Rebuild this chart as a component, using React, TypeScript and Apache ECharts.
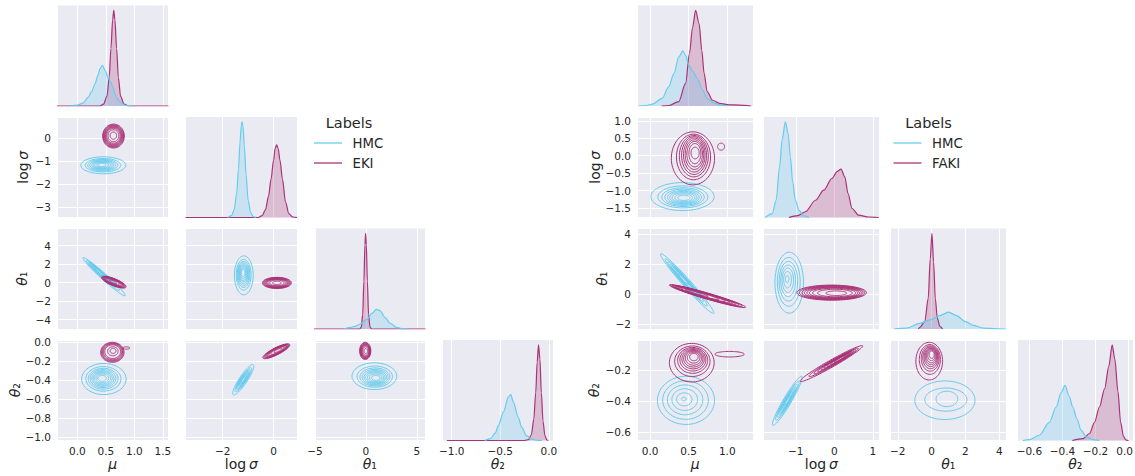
import React, { useEffect, useRef } from "react";
import * as echarts from "echarts";

const HMC_COLOR = "#66CCEE";
const EKI_COLOR = "#AA3377";
const TEXT = "#262626";
const FONT = "DejaVu Sans";
const PANEL_BG = "#EAEAF2";

type Pt = [number, number];
type Spec = { min: number; max: number; split: number; dec: number; padRightEdge?: boolean };
type Blob = { c: Pt; c1?: Pt; u: Pt; v: Pt; levels: number[]; levelsV?: number[] };

// ---------- axis specs ----------
const L_X_SPECS: Spec[] = [
  { min: -0.356, max: 1.6, split: 4, dec: 1 },
  { min: -3.46, max: 0.92, split: 2, dec: 0 },
  { min: -5.1, max: 5.85, split: 2, dec: 0 },
  { min: -1.1, max: 0.048, split: 2, dec: 1 },
];
const L_Y_SPECS: (Spec | null)[] = [
  null,
  { min: -3.44, max: 0.93, split: 4, dec: 0 },
  { min: -5.0, max: 5.86, split: 5, dec: 0 },
  { min: -1.034, max: 0.019, split: 5, dec: 1 },
];
const R_X_SPECS: Spec[] = [
  { min: -0.17, max: 1.34, split: 3, dec: 1 },
  { min: -1.85, max: 1.17, split: 3, dec: 0 },
  { min: -2.46, max: 4.43, split: 3, dec: 0 },
  { min: -0.675, max: 0.03, split: 4, dec: 1, padRightEdge: true },
];
const R_Y_SPECS: (Spec | null)[] = [
  null,
  { min: -1.77, max: 1.11, split: 6, dec: 1 },
  { min: -2.31, max: 4.35, split: 3, dec: 0 },
  { min: -0.654, max: -0.003, split: 3, dec: 1 },
];

// ---------- diagonal KDE curves: [value, relative density] ----------
const kdeL_mu_HMC: Pt[] = [[-0.13, 0], [0, 0.01], [0.1, 0.03], [0.19, 0.09], [0.25, 0.15], [0.31, 0.23], [0.36, 0.32], [0.4, 0.39], [0.44, 0.425], [0.49, 0.37], [0.545, 0.285], [0.59, 0.25], [0.62, 0.2], [0.66, 0.127], [0.7, 0.08], [0.75, 0.04], [0.84, 0.007], [0.98, 0]];
const kdeL_mu_EKI: Pt[] = [[-0.356, 0], [0.4, 0], [0.46, 0.02], [0.52, 0.1], [0.56, 0.3], [0.59, 0.6], [0.62, 0.9], [0.64, 1.0], [0.66, 0.9], [0.69, 0.6], [0.72, 0.3], [0.76, 0.1], [0.82, 0.02], [0.9, 0], [1.6, 0]];
const kdeL_ls_HMC: Pt[] = [[-1.8, 0], [-1.65, 0.02], [-1.55, 0.08], [-1.45, 0.25], [-1.38, 0.5], [-1.32, 0.78], [-1.27, 0.96], [-1.24, 1.0], [-1.2, 0.95], [-1.15, 0.75], [-1.08, 0.45], [-1.0, 0.18], [-0.9, 0.05], [-0.8, 0.01], [-0.7, 0]];
const kdeL_ls_EKI: Pt[] = [[-3.46, 0], [-0.6, 0], [-0.45, 0.02], [-0.32, 0.08], [-0.2, 0.22], [-0.1, 0.4], [0, 0.6], [0.06, 0.72], [0.12, 0.76], [0.18, 0.72], [0.25, 0.6], [0.35, 0.4], [0.47, 0.16], [0.6, 0.04], [0.75, 0.005], [0.92, 0]];
const kdeL_t1_HMC: Pt[] = [[-2.2, 0], [-1.5, 0.017], [-1.0, 0.03], [-0.56, 0.052], [0.1, 0.1], [0.59, 0.164], [1.04, 0.206], [1.4, 0.19], [1.88, 0.12], [2.37, 0.06], [3.0, 0.017], [3.6, 0.004], [4.2, 0]];
const kdeL_t1_EKI: Pt[] = [[-5.1, 0], [-0.6, 0], [-0.45, 0.02], [-0.32, 0.15], [-0.2, 0.5], [-0.1, 0.88], [-0.03, 1.0], [0.04, 0.88], [0.14, 0.5], [0.26, 0.15], [0.4, 0.02], [0.55, 0], [5.85, 0]];
const kdeL_t2_HMC: Pt[] = [[-0.66, 0], [-0.6, 0.02], [-0.55, 0.08], [-0.52, 0.155], [-0.467, 0.3], [-0.416, 0.455], [-0.392, 0.48], [-0.365, 0.4], [-0.314, 0.24], [-0.28, 0.14], [-0.229, 0.05], [-0.177, 0.014], [-0.12, 0.002], [-0.07, 0]];
const kdeL_t2_EKI: Pt[] = [[-1.05, 0], [-0.25, 0], [-0.21, 0.01], [-0.18, 0.06], [-0.155, 0.22], [-0.135, 0.5], [-0.12, 0.82], [-0.106, 1.0], [-0.092, 0.85], [-0.077, 0.5], [-0.06, 0.2], [-0.04, 0.05], [-0.02, 0.005], [-0.005, 0]];

const kdeR_mu_HMC: Pt[] = [[-0.15, 0], [-0.05, 0.005], [0.03, 0.02], [0.156, 0.08], [0.24, 0.2], [0.31, 0.34], [0.37, 0.51], [0.426, 0.575], [0.46, 0.53], [0.5, 0.43], [0.557, 0.357], [0.61, 0.29], [0.68, 0.166], [0.74, 0.08], [0.83, 0.028], [0.94, 0.007], [1.03, 0]];
const kdeR_mu_EKI: Pt[] = [[0.15, 0], [0.24, 0.005], [0.37, 0.045], [0.46, 0.236], [0.51, 0.55], [0.55, 0.82], [0.59, 1.0], [0.635, 0.86], [0.67, 0.58], [0.7, 0.34], [0.74, 0.15], [0.81, 0.06], [0.9, 0.028], [1.03, 0.012], [1.15, 0.01], [1.31, 0]];
const kdeR_ls_HMC: Pt[] = [[-1.79, 0], [-1.61, 0.04], [-1.51, 0.18], [-1.42, 0.53], [-1.355, 0.81], [-1.27, 1.0], [-1.2, 0.88], [-1.14, 0.63], [-1.08, 0.37], [-1.01, 0.18], [-0.92, 0.077], [-0.79, 0.014], [-0.66, 0]];
const kdeR_ls_EKI: Pt[] = [[-1.18, 0], [-0.95, 0.02], [-0.75, 0.06], [-0.49, 0.18], [-0.275, 0.286], [-0.06, 0.41], [0.07, 0.48], [0.174, 0.506], [0.27, 0.425], [0.355, 0.25], [0.46, 0.094], [0.63, 0.024], [0.89, 0.005], [1.15, 0]];
const kdeR_t1_HMC: Pt[] = [[-2.23, 0], [-1.48, 0.01], [-0.69, 0.058], [-0.1, 0.096], [0.49, 0.14], [1.0, 0.176], [1.48, 0.14], [1.97, 0.08], [2.47, 0.038], [3.06, 0.01], [3.85, 0.002], [4.4, 0]];
const kdeR_t1_EKI: Pt[] = [[-0.79, 0], [-0.69, 0.017], [-0.4, 0.08], [-0.2, 0.32], [-0.08, 0.73], [0.02, 1.0], [0.12, 0.7], [0.22, 0.32], [0.34, 0.11], [0.49, 0.028], [0.65, 0]];
const kdeR_t2_HMC: Pt[] = [[-0.64, 0], [-0.6, 0.01], [-0.54, 0.055], [-0.479, 0.19], [-0.438, 0.35], [-0.408, 0.5], [-0.384, 0.576], [-0.361, 0.47], [-0.337, 0.35], [-0.313, 0.23], [-0.287, 0.108], [-0.256, 0.038], [-0.216, 0.01], [-0.176, 0]];
const kdeR_t2_EKI: Pt[] = [[-0.34, 0], [-0.276, 0.02], [-0.236, 0.073], [-0.206, 0.19], [-0.176, 0.35], [-0.145, 0.54], [-0.119, 0.78], [-0.099, 1.0], [-0.083, 0.85], [-0.064, 0.51], [-0.048, 0.19], [-0.03, 0.04], [-0.014, 0.003], [0.0, 0]];

// ---------- contour level scales (outer = 1) ----------
const GAUSS_LEVELS = [1, 0.79, 0.67, 0.58, 0.5, 0.43, 0.36, 0.28, 0.19];
const DENSE_LEVELS = [1, 0.94, 0.88, 0.82, 0.76, 0.7, 0.62, 0.5, 0.3];
const FEW_LEVELS = [1, 0.93, 0.86, 0.78, 0.68, 0.45, 0.25];
const SIX_LEVELS = [1, 0.8, 0.62, 0.45, 0.27, 0.08];
const SEVEN_LEVELS = [1, 0.8, 0.65, 0.52, 0.4, 0.27, 0.12];
const THREE_LEVELS = [1, 0.7, 0.36];
const THREE_LEVELS_V = [1, 0.6, 0.4];
const TALL_LEVELS_V = [1, 0.86, 0.78, 0.71, 0.64, 0.56, 0.48, 0.38, 0.22];
const ONE_LEVEL = [1];

// ---------- contour shapes per panel (row, col) ----------
const contL_10_HMC: Blob[] = [{ c: [0.456, -1.17], c1: [0.43, -1.15], u: [0.395, 0], v: [0, 0.37], levels: GAUSS_LEVELS }];
const contL_10_EKI: Blob[] = [{ c: [0.635, 0.1], c1: [0.632, 0.13], u: [0.19, 0], v: [0, 0.52], levels: DENSE_LEVELS }];
const contL_20_HMC: Blob[] = [{ c: [0.47, 0.65], c1: [0.36, 1.3], u: [-0.37, 2.05], v: [0.035, 0.24], levels: GAUSS_LEVELS }];
const contL_20_EKI: Blob[] = [{ c: [0.64, 0.065], c1: [0.62, 0.12], u: [0.214, -0.54], v: [-0.023, -0.35], levels: DENSE_LEVELS }];
const contL_30_HMC: Blob[] = [{ c: [0.466, -0.39], c1: [0.43, -0.38], u: [0.39, 0], v: [0, 0.163], levels: GAUSS_LEVELS }];
const contL_30_EKI: Blob[] = [
  { c: [0.615, -0.11], c1: [0.632, -0.09], u: [0.205, 0], v: [0, 0.105], levels: FEW_LEVELS },
  { c: [0.86, -0.065], u: [0.06, 0], v: [0, 0.012], levels: ONE_LEVEL },
];
const contL_21_HMC: Blob[] = [{ c: [-1.17, 0.8], c1: [-1.2, 1.1], u: [0.37, 0], v: [0, 2.1], levels: GAUSS_LEVELS }];
const contL_21_EKI: Blob[] = [{ c: [0.13, -0.02], u: [0.57, 0], v: [0, 0.6], levels: DENSE_LEVELS }];
const contL_31_HMC: Blob[] = [{ c: [-1.19, -0.397], u: [0.395, 0.158], v: [0.132, -0.0234], levels: GAUSS_LEVELS }];
const contL_31_EKI: Blob[] = [{ c: [0.107, -0.099], c1: [0.2, -0.086], u: [0.526, 0.0705], v: [0.062, -0.033], levels: DENSE_LEVELS }];
const contL_32_HMC: Blob[] = [{ c: [0.83, -0.36], c1: [1.0, -0.383], u: [2.2, 0], v: [0, 0.14], levels: GAUSS_LEVELS }];
const contL_32_EKI: Blob[] = [{ c: [-0.07, -0.095], c1: [0, -0.099], u: [0.55, 0], v: [0, 0.09], levels: DENSE_LEVELS }];

const contR_10_HMC: Blob[] = [{ c: [0.42, -1.17], c1: [0.44, -1.217], u: [0.41, 0], v: [0, 0.4], levels: GAUSS_LEVELS }];
const contR_10_EKI: Blob[] = [
  { c: [0.555, -0.075], c1: [0.59, 0.114], u: [0.28, 0], v: [0, 0.76], levels: GAUSS_LEVELS, levelsV: TALL_LEVELS_V },
  { c: [0.92, 0.26], u: [0.045, 0], v: [0, 0.1], levels: ONE_LEVEL },
];
const contR_20_HMC: Blob[] = [{ c: [0.48, 0.7], c1: [0.42, 1.05], u: [-0.343, 1.97], v: [0.039, 0.174], levels: GAUSS_LEVELS }];
const contR_20_EKI: Blob[] = [{ c: [0.743, -0.13], c1: [0.545, 0.165], u: [0.495, -0.737], v: [-0.011, -0.19], levels: DENSE_LEVELS }];
const contR_30_HMC: Blob[] = [{ c: [0.465, -0.394], c1: [0.435, -0.385], u: [0.37, 0], v: [0, 0.156], levels: SIX_LEVELS }];
const contR_30_EKI: Blob[] = [
  { c: [0.54, -0.15], c1: [0.574, -0.105], u: [0.29, 0], v: [0, 0.125], levels: GAUSS_LEVELS },
  { c: [1.03, -0.095], u: [0.19, 0], v: [0, 0.018], levels: ONE_LEVEL },
];
const contR_21_HMC: Blob[] = [{ c: [-1.17, 0.76], c1: [-1.23, 1.03], u: [0.37, 0], v: [0, 2.02], levels: SEVEN_LEVELS }];
const contR_21_EKI: Blob[] = [{ c: [-0.07, 0.1], c1: [0.1, 0.05], u: [0.9, 0], v: [0, 0.5], levels: DENSE_LEVELS }];
const contR_31_HMC: Blob[] = [{ c: [-1.22, -0.397], u: [0.376, 0.159], v: [0.089, -0.0131], levels: GAUSS_LEVELS }];
const contR_31_EKI: Blob[] = [{ c: [-0.078, -0.156], c1: [0.2, -0.118], u: [0.811, 0.115], v: [0.045, -0.0196], levels: GAUSS_LEVELS }];
const contR_32_HMC: Blob[] = [{ c: [0.79, -0.393], c1: [0.97, -0.38], u: [1.78, 0], v: [0, 0.125], levels: THREE_LEVELS, levelsV: THREE_LEVELS_V }];
const contR_32_EKI: Blob[] = [{ c: [-0.14, -0.14], c1: [0.04, -0.088], u: [0.79, 0], v: [0, 0.122], levels: GAUSS_LEVELS }];

// ---------- layout ----------
const ROW_TOPS = [5.5, 117, 228.5, 340];
const ROW_H = 100.5;

interface Side {
  colLeft: number[];
  colW: number;
  xs: Spec[];
  ys: (Spec | null)[];
  kde: { hmc: Pt[]; eki: Pt[] }[];
  cont: Record<string, { hmc: Blob[]; eki: Blob[] }>;
  legendX: number;
  secondLabel: string;
  yNameX: number[];
}

const SIDES: Side[] = [
  {
    colLeft: [57, 185.5, 314, 442],
    colW: 111.5,
    xs: L_X_SPECS,
    ys: L_Y_SPECS,
    kde: [
      { hmc: kdeL_mu_HMC, eki: kdeL_mu_EKI },
      { hmc: kdeL_ls_HMC, eki: kdeL_ls_EKI },
      { hmc: kdeL_t1_HMC, eki: kdeL_t1_EKI },
      { hmc: kdeL_t2_HMC, eki: kdeL_t2_EKI },
    ],
    cont: {
      "10": { hmc: contL_10_HMC, eki: contL_10_EKI },
      "20": { hmc: contL_20_HMC, eki: contL_20_EKI },
      "30": { hmc: contL_30_HMC, eki: contL_30_EKI },
      "21": { hmc: contL_21_HMC, eki: contL_21_EKI },
      "31": { hmc: contL_31_HMC, eki: contL_31_EKI },
      "32": { hmc: contL_32_HMC, eki: contL_32_EKI },
    },
    legendX: 314,
    secondLabel: "EKI",
    yNameX: [0, 23, 22, 15],
  },
  {
    colLeft: [637, 763, 890, 1017],
    colW: 116.5,
    xs: R_X_SPECS,
    ys: R_Y_SPECS,
    kde: [
      { hmc: kdeR_mu_HMC, eki: kdeR_mu_EKI },
      { hmc: kdeR_ls_HMC, eki: kdeR_ls_EKI },
      { hmc: kdeR_t1_HMC, eki: kdeR_t1_EKI },
      { hmc: kdeR_t2_HMC, eki: kdeR_t2_EKI },
    ],
    cont: {
      "10": { hmc: contR_10_HMC, eki: contR_10_EKI },
      "20": { hmc: contR_20_HMC, eki: contR_20_EKI },
      "30": { hmc: contR_30_HMC, eki: contR_30_EKI },
      "21": { hmc: contR_21_HMC, eki: contR_21_EKI },
      "31": { hmc: contR_31_HMC, eki: contR_31_EKI },
      "32": { hmc: contR_32_HMC, eki: contR_32_EKI },
    },
    legendX: 893.5,
    secondLabel: "FAKI",
    yNameX: [0, 595, 602, 594],
  },
];

const NAME_RICH = {
  i: { fontFamily: FONT, fontSize: 14, fontStyle: "italic", fill: TEXT, color: TEXT },
  n: { fontFamily: FONT, fontSize: 14, fill: TEXT, color: TEXT },
  s: { fontFamily: FONT, fontSize: 14, fill: TEXT, color: TEXT },
};
const VAR_NAMES = ["{i|μ}", "{n|log\u2009}{i|σ}", "{i|θ}{s|₁}", "{i|θ}{s|₂}"];

const EDGE_RICH = {
  e: { fontFamily: FONT, fontSize: 10.5, color: TEXT, padding: [0, 8, 0, 0] },
};

function fmt(spec: Spec) {
  return (v: number) => {
    let x = v;
    if (Math.abs(x) < 1e-9) x = 0;
    const s = x.toFixed(spec.dec).replace("-", "\u2212");
    if (spec.padRightEdge && spec.max - x < 0.05) return `{e|${s}}`;
    return s;
  };
}

function nameText(text: string, x: number, y: number, rotate: boolean) {
  return {
    type: "text",
    x,
    y,
    rotation: rotate ? Math.PI / 2 : 0,
    silent: true,
    style: {
      text,
      rich: NAME_RICH,
      align: "center",
      verticalAlign: "middle",
      textAlign: "center",
      textVerticalAlign: "middle",
      fontFamily: FONT,
      fontSize: 14,
      fill: TEXT,
    },
  };
}

function buildOption() {
  const grid: any[] = [];
  const xAxis: any[] = [];
  const yAxis: any[] = [];
  const series: any[] = [];
  const graphic: any[] = [];

  SIDES.forEach((side) => {
    for (let r = 0; r < 4; r++) {
      for (let c = 0; c <= r; c++) {
        const g = grid.length;
        grid.push({
          left: side.colLeft[c],
          top: ROW_TOPS[r],
          width: side.colW,
          height: ROW_H,
          show: true,
          backgroundColor: PANEL_BG,
          borderWidth: 0,
          containLabel: false,
          outerBoundsMode: "none",
        });
        const xs = side.xs[c];
        xAxis.push({
          type: "value",
          gridIndex: g,
          min: xs.min,
          max: xs.max,
          splitNumber: xs.split,
          axisLine: { show: false },
          axisTick: { show: false },
          axisLabel: {
            show: r === 3,
            formatter: fmt(xs),
            rich: EDGE_RICH,
            color: TEXT,
            fontFamily: FONT,
            fontSize: 10.5,
            margin: 5,
            showMinLabel: false,
            showMaxLabel: false,
          },
          splitLine: { show: true, lineStyle: { color: "#ffffff", width: 1 } },
        });
        if (r === c) {
          yAxis.push({
            type: "value",
            gridIndex: g,
            min: 0,
            max: 1.05,
            axisLine: { show: false },
            axisTick: { show: false },
            axisLabel: { show: false },
            splitLine: { show: false },
          });
          const k = side.kde[r];
          const mk = (data: Pt[], color: string) => ({
            type: "line",
            xAxisIndex: g,
            yAxisIndex: g,
            data,
            showSymbol: false,
            symbol: "none",
            smooth: 0.3,
            smoothMonotone: "x",
            lineStyle: { color, width: 1.2 },
            areaStyle: { color, opacity: 0.25 },
            silent: true,
            z: 2,
          });
          series.push(mk(k.eki, EKI_COLOR));
          series.push(mk(k.hmc, HMC_COLOR));
        } else {
          const ys = side.ys[r] as Spec;
          yAxis.push({
            type: "value",
            gridIndex: g,
            min: ys.min,
            max: ys.max,
            splitNumber: ys.split,
            axisLine: { show: false },
            axisTick: { show: false },
            axisLabel: {
              show: c === 0,
              formatter: fmt(ys),
              color: TEXT,
              fontFamily: FONT,
              fontSize: 10.5,
              margin: 6,
              showMinLabel: false,
              showMaxLabel: false,
            },
            splitLine: { show: true, lineStyle: { color: "#ffffff", width: 1 } },
          });
          const pan = side.cont[`${r}${c}`];
          const addBlobs = (blobs: Blob[], color: string) => {
            blobs.forEach((b) => {
              const c1 = b.c1 || b.c;
              const data = b.levels.map((s, i) => {
                const sv = b.levelsV ? b.levelsV[i] : s;
                return [c1[0] + (b.c[0] - c1[0]) * s, c1[1] + (b.c[1] - c1[1]) * s, s, sv];
              });
              series.push({
                type: "custom",
                xAxisIndex: g,
                yAxisIndex: g,
                clip: true,
                silent: true,
                data,
                encode: { x: 0, y: 1 },
                renderItem: (_p: any, api: any) => {
                  const cx = api.value(0);
                  const cy = api.value(1);
                  const s = api.value(2);
                  const sv = api.value(3);
                  const pts: number[][] = [];
                  const N = 72;
                  for (let i = 0; i <= N; i++) {
                    const t = (i / N) * Math.PI * 2;
                    const ct = Math.cos(t);
                    const st = Math.sin(t);
                    const x = cx + s * b.u[0] * ct + sv * b.v[0] * st;
                    const y = cy + s * b.u[1] * ct + sv * b.v[1] * st;
                    pts.push(api.coord([x, y]));
                  }
                  return {
                    type: "polyline",
                    shape: { points: pts },
                    style: { stroke: color, fill: "none", lineWidth: 1 },
                  };
                },
                z: 3,
              });
            });
          };
          addBlobs(pan.hmc, HMC_COLOR);
          addBlobs(pan.eki, EKI_COLOR);
        }
      }
    }

    // axis names
    for (let c = 0; c < 4; c++) {
      const cxp = side.colLeft[c] + side.colW / 2;
      graphic.push(nameText(VAR_NAMES[c], cxp, 464, false));
    }
    for (let r = 1; r < 4; r++) {
      graphic.push(nameText(VAR_NAMES[r], side.yNameX[r], ROW_TOPS[r] + ROW_H / 2, true));
    }

    // legend
    const lx = side.legendX;
    graphic.push({
      type: "text",
      x: lx + 35,
      y: 122.7,
      silent: true,
      style: {
        text: "Labels",
        fontFamily: FONT,
        fontSize: 14.5,
        fill: TEXT,
        align: "center",
        verticalAlign: "middle",
        textAlign: "center",
        textVerticalAlign: "middle",
      },
    });
    const items: [string, string, number][] = [
      ["HMC", HMC_COLOR, 143],
      [side.secondLabel, EKI_COLOR, 163],
    ];
    items.forEach(([label, color, y]) => {
      graphic.push({
        type: "line",
        silent: true,
        shape: { x1: lx, y1: y, x2: lx + 28, y2: y },
        style: { stroke: color, lineWidth: 1.3 },
      });
      graphic.push({
        type: "text",
        x: lx + 38.5,
        y,
        silent: true,
        style: {
          text: label,
          fontFamily: FONT,
          fontSize: 13.3,
          fill: TEXT,
          align: "left",
          verticalAlign: "middle",
          textAlign: "left",
          textVerticalAlign: "middle",
        },
      });
    });
  });

  return {
    animation: false,
    backgroundColor: "#ffffff",
    textStyle: { fontFamily: FONT },
    grid,
    xAxis,
    yAxis,
    series,
    graphic,
  };
}

export default function App() {
  const ref = useRef<HTMLDivElement>(null);
  useEffect(() => {
    if (!ref.current) return;
    const chart = echarts.init(ref.current, null, { renderer: "svg" });
    chart.setOption(buildOption() as any);
    return () => {
      chart.dispose();
    };
  }, []);
  return (
    <div
      ref={ref}
      style={{ position: "fixed", left: 0, top: 0, width: 1135, height: 476, background: "#fff" }}
    />
  );
}
